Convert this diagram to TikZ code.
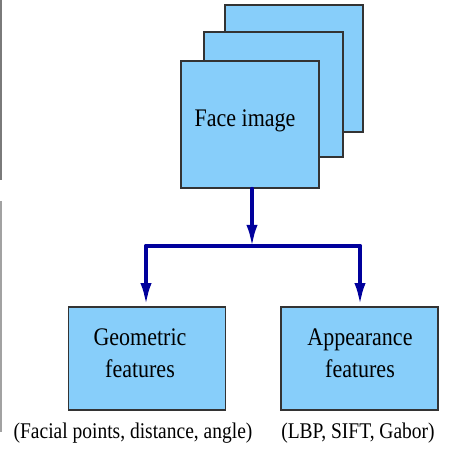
\documentclass[tikz,border=0pt]{standalone}
\usepackage{fontspec}
\setmainfont{Liberation Serif}
\usetikzlibrary{arrows.meta}
\definecolor{boxfill}{HTML}{87CEFA}
\definecolor{boxline}{HTML}{333333}
\definecolor{flowblue}{HTML}{00009C}
\definecolor{edgegray}{HTML}{7A7A7A}
\tikzset{
  card/.style={draw=boxline, line width=1.6pt, fill=boxfill},
  flow/.style={draw=flowblue, line width=4pt, line cap=round, line join=round},
  flowtip/.style={flow, -{Latex[length=23pt,width=11pt]}},
  lbl/.style={font=\fontsize{22}{32}\selectfont, align=center, inner sep=0pt},
  captext/.style={font=\fontsize{19.5}{24}\selectfont, inner sep=0pt},
}
\newcommand{\tall}[1]{\scalebox{1}[1.15]{#1}}
\begin{document}
\begin{tikzpicture}[x=1pt,y=-1pt]
  \useasboundingbox (0,0) rectangle (453,449);
  % gray rules at the left border
  \draw[edgegray, line width=2pt] (1,0) -- (1,180);
  \draw[edgegray!70, line width=2pt] (1,201) -- (1,432);

  % stacked image cards
  \draw[card] (225,5) rectangle (363,132);
  \draw[card] (204,32) rectangle (343,157);
  \node[card, minimum width=138pt, minimum height=127pt, inner sep=0pt] (face) at (250,124.5) {};
  \node[lbl] (facetext) at (245,121) {\tall{Face image}};

  % feature boxes
  \node[card, minimum width=157pt, minimum height=103pt, inner sep=0pt] (geo) at (147,358.5) {};
  \node[card, minimum width=157pt, minimum height=103pt, inner sep=0pt] (app) at (359.5,358.5) {};
  \node[lbl] (geotext) at (140,353) {\tall{Geometric}\\\tall{features}};
  \node[lbl] (apptext) at (360,353) {\tall{Appearance}\\\tall{features}};

  % captions
  \node[captext] (geocap) at (133,433) {\tall{(Facial points, distance, angle)}};
  \node[captext] (appcap) at (358,433) {\tall{(LBP, SIFT, Gabor)}};

  % branching connectors
  \coordinate (split) at (252,246);
  \coordinate (lft) at (146,246);
  \coordinate (rgt) at (360,246);
  \draw[flowtip] (face.south -| split) -- ([yshift=-2pt]split);
  \draw[flow] (lft) -- (rgt);
  \draw[flowtip] (lft) -- (lft |- geo.north);
  \draw[flowtip] (rgt) -- (rgt |- app.north);
\end{tikzpicture}
\end{document}
